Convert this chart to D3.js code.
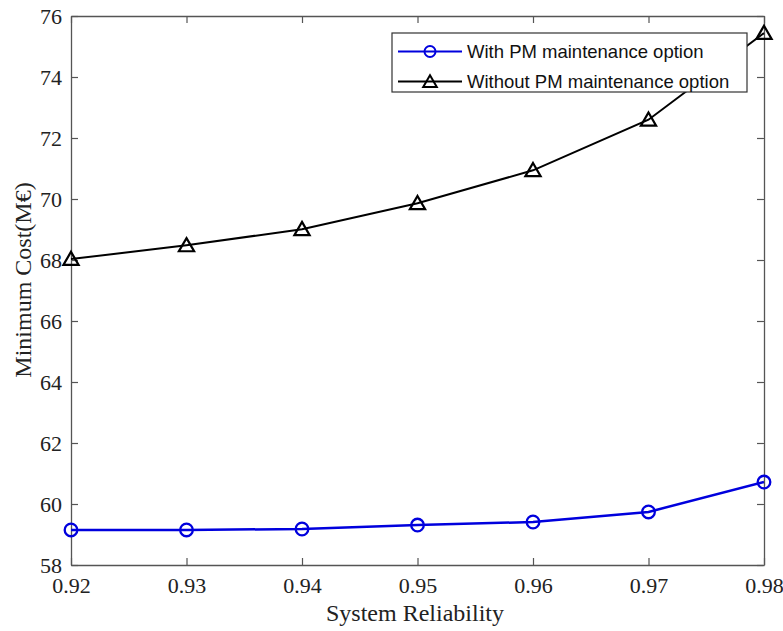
<!DOCTYPE html>
<html>
<head>
<meta charset="utf-8">
<script src="https://cdn.jsdelivr.net/npm/d3@7"></script>
<style>
  body { margin: 0; background: #fff; }
  svg { display: block; }
</style>
</head>
<body>
<svg id="chart" width="783" height="631"></svg>
<script>
// System reliability targets and the minimum cost (M€) found for each
const reliability = [0.92, 0.93, 0.94, 0.95, 0.96, 0.97, 0.98];
const costWithPM = [59.15, 59.15, 59.18, 59.31, 59.41, 59.74, 60.72];
const costWithoutPM = [68.03, 68.48, 69.01, 69.86, 70.94, 72.60, 75.44];
const xTicks = [0.92, 0.93, 0.94, 0.95, 0.96, 0.97, 0.98];
const yTicks = [58, 60, 62, 64, 66, 68, 70, 72, 74, 76];
const seriesNames = ["With PM maintenance option", "Without PM maintenance option"];

const svg = d3.select("#chart");
const margin = { left: 71, right: 19, top: 16, bottom: 66 };
const W = 783, H = 631;
const x = d3.scaleLinear().domain([0.92, 0.98]).range([margin.left, W - margin.right]);
const y = d3.scaleLinear().domain([58, 76]).range([H - margin.bottom, margin.top]);

const axisColor = "#555";
const serif = "'Liberation Serif', 'Times New Roman', serif";

// Box axes with inward ticks on all four sides
const tl = 7;
const xAxisB = d3.axisBottom(x).tickValues(xTicks).tickSizeInner(-tl).tickSizeOuter(0).tickPadding(12.5).tickFormat(d3.format(".2f"));
const xAxisT = d3.axisTop(x).tickValues(xTicks).tickSizeInner(-tl).tickSizeOuter(0).tickFormat("");
const yAxisL = d3.axisLeft(y).tickValues(yTicks).tickSizeInner(-tl).tickSizeOuter(0).tickPadding(9).tickFormat(d3.format("d"));
const yAxisR = d3.axisRight(y).tickValues(yTicks).tickSizeInner(-tl).tickSizeOuter(0).tickFormat("");

function styleAxis(g) {
  g.select(".domain").attr("stroke", axisColor).attr("stroke-width", 1.3);
  g.selectAll(".tick line").attr("stroke", axisColor).attr("stroke-width", 1.2);
  g.selectAll(".tick text").attr("fill", "#222").style("font-family", serif).style("font-size", "22px");
}

svg.append("g").attr("transform", `translate(0,${H - margin.bottom})`).call(xAxisB).call(styleAxis);
svg.append("g").attr("transform", `translate(0,${margin.top})`).call(xAxisT).call(styleAxis);
svg.append("g").attr("transform", `translate(${margin.left},0)`).call(yAxisL).call(styleAxis);
svg.append("g").attr("transform", `translate(${W - margin.right},0)`).call(yAxisR).call(styleAxis);

// Axis titles
svg.append("text")
  .attr("x", 415)
  .attr("y", 621)
  .attr("text-anchor", "middle")
  .style("font-family", serif).style("font-size", "24px").attr("fill", "#222")
  .text("System Reliability");

svg.append("text")
  .attr("transform", "translate(31,280) rotate(-90)")
  .attr("text-anchor", "middle")
  .style("font-family", serif).style("font-size", "24px").attr("fill", "#222")
  .text("Minimum Cost(M€)");

const line = d3.line().x((d, i) => x(reliability[i])).y(d => y(d));
const tri = d3.symbol().type(d3.symbolTriangle).size(100);

// Series without PM: black line with triangles
svg.append("path").datum(costWithoutPM)
  .attr("d", line).attr("fill", "none").attr("stroke", "#000").attr("stroke-width", 2);
svg.selectAll(".tri").data(costWithoutPM).enter().append("path")
  .attr("class", "tri")
  .attr("d", tri)
  .attr("transform", (d, i) => `translate(${x(reliability[i])},${y(d) + 1.5})`)
  .attr("fill", "none").attr("stroke", "#000").attr("stroke-width", 2.2);

// Series with PM: blue line with circles
const blue = "#0000dd";
svg.append("path").datum(costWithPM)
  .attr("d", line).attr("fill", "none").attr("stroke", blue).attr("stroke-width", 2.5);
svg.selectAll(".circ").data(costWithPM).enter().append("circle")
  .attr("class", "circ")
  .attr("cx", (d, i) => x(reliability[i]))
  .attr("cy", d => y(d))
  .attr("r", 6.3)
  .attr("fill", "none").attr("stroke", blue).attr("stroke-width", 2.3);

// Legend
const lg = svg.append("g").attr("transform", "translate(392,33)");
lg.append("rect").attr("width", 355).attr("height", 59)
  .attr("fill", "#fff").attr("stroke", "#333").attr("stroke-width", 1.2);
const rows = [
  { name: seriesNames[0], color: blue, mark: "circle", yy: 18.5 },
  { name: seriesNames[1], color: "#000", mark: "tri", yy: 48.5 }
];
rows.forEach(r => {
  lg.append("line").attr("x1", 6).attr("x2", 70).attr("y1", r.yy).attr("y2", r.yy)
    .attr("stroke", r.color).attr("stroke-width", 2);
  if (r.mark === "circle") {
    lg.append("circle").attr("cx", 38).attr("cy", r.yy).attr("r", 5.5)
      .attr("fill", "none").attr("stroke", r.color).attr("stroke-width", 2);
  } else {
    lg.append("path").attr("d", d3.symbol().type(d3.symbolTriangle).size(80))
      .attr("transform", `translate(38,${r.yy + 1.5})`)
      .attr("fill", "none").attr("stroke", r.color).attr("stroke-width", 2);
  }
  lg.append("text").attr("x", 75).attr("y", r.yy).attr("dy", "0.35em")
    .style("font-family", "'Liberation Sans', Arial, sans-serif").style("font-size", "18.5px")
    .attr("fill", "#111").text(r.name);
});
</script>
</body>
</html>
